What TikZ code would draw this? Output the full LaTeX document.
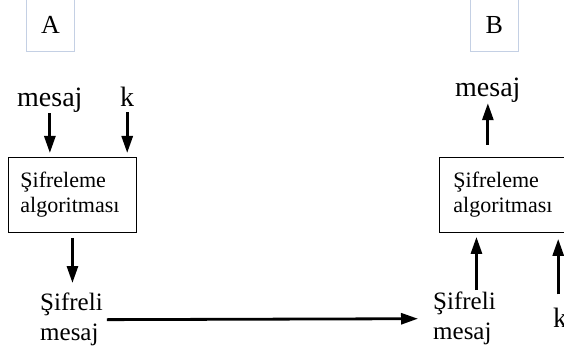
\documentclass[tikz,border=0pt]{standalone}
\usepackage{fontspec}
\setmainfont{Liberation Serif}
\usetikzlibrary{arrows.meta}
\definecolor{framegray}{RGB}{196, 208, 228}

\begin{document}
\begin{tikzpicture}[x=1pt, y=-1pt,
  arr/.style={-{Triangle[length=17pt, width=11pt]}, line width=2.8pt},
  algbox/.style={draw, line width=0.9pt, anchor=north west, align=left,
    minimum height=75pt, inner ysep=0pt, font=\fontsize{22}{25}\selectfont},
  partybox/.style={draw=framegray, line width=0.8pt, anchor=north west,
    minimum width=48pt, minimum height=53pt, font=\fontsize{26}{30}\selectfont},
  word/.style={inner sep=0pt, font=\fontsize{28}{32}\selectfont},
  cipher/.style={inner sep=0pt, anchor=north west, align=left,
    font=\fontsize{25}{30}\selectfont}]
\useasboundingbox (0,0) rectangle (564,358);

% Party labels
\node[partybox] (partyA) at (26,-2) {A};
\node[partybox] (partyB) at (470,-2) {B};

% Sender side
\node[word, anchor=base west] (msgA) at (17,107) {mesaj};
\node[word, anchor=base west] (keyA) at (120,107) {k};
\node[algbox, minimum width=128pt, text width=104pt, inner xsep=12pt] (encA) at (8,157) {Şifreleme\\algoritması};
\node[cipher] (cipherA) at (40,293) {Şifreli\\mesaj};

% Receiver side
\node[word, anchor=base west] (msgB) at (455,97) {mesaj};
\node[algbox, minimum width=128pt, text width=100pt, inner xsep=14pt] (encB) at (439,157) {Şifreleme\\algoritması};
\node[cipher] (cipherB) at (433,292) {Şifreli\\mesaj};
\node[word, anchor=base west] (keyB) at (553,327) {k};

% Arrows into and out of the sender box
\draw[arr, shorten >=4pt] (msgA.south) -- (msgA.south |- encA.north);
\draw[arr, shorten <=5pt, shorten >=4pt] (keyA.south) -- (keyA.south |- encA.north);
\draw[arr, shorten <=5pt, shorten >=10pt] (encA.south) -- (encA.south |- cipherA.north);

% Transmission
\draw[arr, shorten <=4pt, shorten >=15pt] (cipherA.east) -- (cipherB.west);

% Arrows into and out of the receiver box
\draw[arr, shorten <=2pt, shorten >=4pt] ([xshift=12pt]cipherB.north) -- ([xshift=12pt]cipherB.north |- encB.south);
\draw[arr, shorten <=13pt, shorten >=6pt] ([xshift=-2pt]keyB.north) -- ([xshift=-2pt]keyB.north |- encB.south);
\draw[arr, shorten <=12pt] (msgB.south |- encB.north) -- (msgB.south);
\end{tikzpicture}
\end{document}
